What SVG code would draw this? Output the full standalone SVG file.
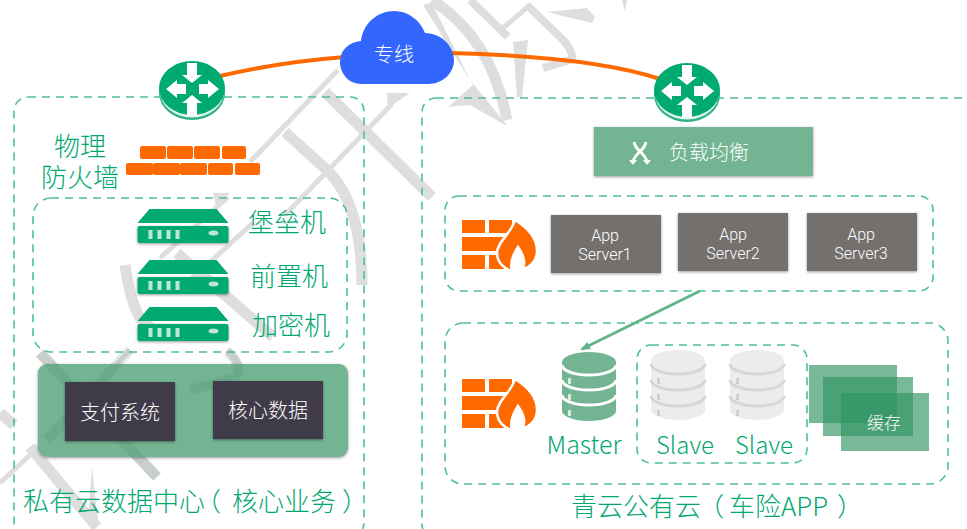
<svg xmlns="http://www.w3.org/2000/svg" width="967" height="529" viewBox="0 0 967 529">
<style>
text{font-family:"Noto Sans CJK SC","Noto Sans",sans-serif;font-weight:300}
.zone{fill:none;stroke:#4cc193;stroke-width:1.6;stroke-dasharray:8 6}
.lbl{fill:#00a870;font-size:26px}
.tight{font-family:"Liberation Sans","Noto Sans CJK SC",sans-serif}
.halt{font-feature-settings:"halt"}
.en{fill:#00a870;font-size:24px;text-anchor:middle}
.wt{fill:#fff;font-size:20px;text-anchor:middle}
.srv{fill:#fff;font-family:Roboto,sans-serif;font-size:16px;text-anchor:middle}
.wm{fill:none;stroke:#dedede;stroke-width:11}
.wm2{fill:none;stroke:#dedede;stroke-width:8}
.wmt{fill:none;stroke:#dedede;stroke-width:5}
.wp{fill:#dedede}
.ov{fill:none;stroke:#2f6e4f;stroke-opacity:.13;stroke-width:10}
.b{fill:#ff6a00}
.g{fill:#00aa70}
.c{fill:#2f9463;fill-opacity:.65}
</style>
<defs>
<filter id="sh" x="-10%" y="-15%" width="120%" height="130%"><feDropShadow dx="0" dy="1" stdDeviation="1.500" flood-color="#000" flood-opacity=".4"/></filter>
<marker id="ah" markerWidth="10" markerHeight="8" refX="8" refY="4" orient="auto" markerUnits="userSpaceOnUse"><path d="M0 0L10 4L0 8z" fill="#62b48c"/></marker>
<g id="router">
<ellipse cx="0" cy="5" rx="33" ry="27" fill="#2fb585"/>
<ellipse cx="0" cy="3" rx="32" ry="26.500" fill="#e6f6f0"/>
<ellipse cx="0" cy="0" rx="33" ry="27" class="g"/>
<path fill="#fff" d="M-5-25H5V-13H10L0-5L-10-13H-5zM-5 27H5V15H10L0 7L-10 15H-5zM-26 1L-15-8V-4H-6V6H-15V10zM27 1L16-8V-4H7V6H16V10z"/>
</g>
<g id="firewall">
<path class="b" d="M0 0h23v13h-23zM27 0h23v13h-23zM0 17h45v14h-45zM0 35h23v14h-23zM27 35h19v14h-19z"/>
<path class="b" stroke="#fff" stroke-width="2.500" d="M53 0C66 8 75 19 75 31C75 41 68 47 60 50C64 44 63 37 56 27C50 36 48 44 50 51C42 49 35 42 35 33C35 22 49 14 53 0z"/>
</g>
<g id="dbg">
<path fill="#73b593" d="M-27 10V59a27 10 0 0 0 54 0V10z"/>
<path fill="none" stroke="#fff" stroke-width="3" d="M-27 13a27 10 0 0 0 54 0M-27 28a27 10 0 0 0 54 0M-27 43a27 10 0 0 0 54 0"/>
<ellipse cx="0" cy="10" rx="27" ry="10" fill="#73b593"/>
<path fill="#d7ebe0" d="M-21 26h3v6h-3zM-21 42h3v6h-3zM-21 58h3v6h-3z"/>
</g>
<g id="dbw">
<path fill="#ececec" d="M-27 10V60a27 10 0 0 0 54 0V10z"/>
<path fill="none" stroke="#d6d6d6" stroke-width="3" d="M-27 14a27 10 0 0 0 54 0M-27 30a27 10 0 0 0 54 0M-27 46a27 10 0 0 0 54 0"/>
<ellipse cx="0" cy="10" rx="27" ry="10" fill="#ececec"/>
<path fill="#cfcfcf" d="M-21 28h3v6h-3zM-21 44h3v6h-3zM-21 60h3v6h-3z"/>
</g>
<g id="appliance">
<path class="g" d="M12 0H79L91 14H0z"/>
<rect x="0" y="17" width="91" height="17" rx="2" class="g" filter="url(#sh)"/>
<path fill="#bfe5d6" d="M11 21h4v9h-4zM20 21h4v9h-4zM29 21h4v9h-4zM38 21h4v9h-4z"/>
<ellipse cx="76" cy="24" rx="5" ry="2.500" fill="#bfe5d6"/>
</g>
</defs>
<rect width="967" height="529" fill="#fff"/>
<g id="watermark">
<path class="wmt" d="M338 70L250 162M392 104L285 215M228 197L160 258M253 223L187 283M130 350L47 440M43 443L0 483"/>
<path class="wm" d="M325 92L432 197M285 132L330 173C350 195 362 230 362 285"/>
<path class="wp" d="M410 93H387L388 108zM230 193H213L216 206zM513 42L528 40L522 97L517 97zM547 12L587 8L595 17L592 23L567 17zM622 0L625 12L627 0zM92 467L88 520H98zM423 5L432 3L470 80L507 125L505 125L470 105L448 107L473 85z"/>
<path class="wm" d="M125 265C128 285 132 305 140 318L157 333M177 253L273 337M40 353L157 477M30 447L97 527M0 413L14 425"/>
<path class="wm2" d="M227 350C240 362 242 374 233 378L190 390M470 0L508 37M527 5L563 40C572 50 574 58 570 60L543 68"/>
<path class="wm" d="M432 0C470 25 495 60 507 120" stroke-width="9"/>
<path class="wmt" d="M530 5L503 28"/>
</g>
<g id="connectors">
<path d="M220 76Q280 62 345 57" fill="none" stroke="#ff6a00" stroke-width="4"/>
<path d="M450 53C530 55 610 62 660 79" fill="none" stroke="#ff6a00" stroke-width="4"/>
<path d="M700 291L582 349" fill="none" stroke="#62b48c" stroke-width="3" marker-end="url(#ah)"/>
</g>
<g id="zone-private"><rect class="zone" x="14" y="97" width="350" height="440" rx="14"/></g>
<g id="zone-public"><rect class="zone" x="422" y="98" width="570" height="440" rx="14"/></g>
<g id="zone-dmz"><rect class="zone" x="33" y="198" width="314" height="154" rx="18"/></g>
<g id="zone-app"><rect class="zone" x="445" y="196" width="488" height="95" rx="14"/></g>
<g id="zone-db"><rect class="zone" x="445" y="323" width="503" height="161" rx="18"/></g>
<g id="zone-slave"><rect class="zone" x="637" y="345" width="170" height="118" rx="14"/></g>
<g id="router-left"><use href="#router" x="192" y="88"/></g>
<g id="router-right"><use href="#router" x="687" y="90"/></g>
<g id="cloud">
<path fill="#3366ff" d="M362 84C347 84 340 72 340 62C340 50 349 42 361 41C363 23 378 11 394 11C408 11 420 20 425 33C442 33 454 47 454 60C454 73 443 84 428 84z"/>
<text class="wt" x="394" y="62">专线</text>
</g>
<g id="firewall-physical">
<path class="b" d="M142 146h22a2 2 0 0 1 2 2v9a2 2 0 0 1-2 2h-22a2 2 0 0 1-2-2v-9a2 2 0 0 1 2-2zM169 146h22a2 2 0 0 1 2 2v9a2 2 0 0 1-2 2h-22a2 2 0 0 1-2-2v-9a2 2 0 0 1 2-2zM196 146h22a2 2 0 0 1 2 2v9a2 2 0 0 1-2 2h-22a2 2 0 0 1-2-2v-9a2 2 0 0 1 2-2zM224 146h20a2 2 0 0 1 2 2v9a2 2 0 0 1-2 2h-20a2 2 0 0 1-2-2v-9a2 2 0 0 1 2-2zM128 163h23a2 2 0 0 1 2 2v8a2 2 0 0 1-2 2h-23a2 2 0 0 1-2-2v-8a2 2 0 0 1 2-2zM155 163h23a2 2 0 0 1 2 2v8a2 2 0 0 1-2 2h-23a2 2 0 0 1-2-2v-8a2 2 0 0 1 2-2zM182 163h23a2 2 0 0 1 2 2v8a2 2 0 0 1-2 2h-23a2 2 0 0 1-2-2v-8a2 2 0 0 1 2-2zM210 163h21a2 2 0 0 1 2 2v8a2 2 0 0 1-2 2h-21a2 2 0 0 1-2-2v-8a2 2 0 0 1 2-2zM237 163h21a2 2 0 0 1 2 2v8a2 2 0 0 1-2 2h-21a2 2 0 0 1-2-2v-8a2 2 0 0 1 2-2z"/>
<text class="lbl tight" text-anchor="middle"><tspan x="80" y="156">物理</tspan><tspan x="80" y="187">防火墙</tspan></text>
</g>
<g id="bastion"><use href="#appliance" x="137.500" y="209"/><text class="lbl" x="248" y="232">堡垒机</text></g>
<g id="frontend"><use href="#appliance" x="137.500" y="260"/><text class="lbl" x="250" y="286">前置机</text></g>
<g id="encrypt"><use href="#appliance" x="137.500" y="307"/><text class="lbl" x="252" y="335">加密机</text></g>
<g id="core-group">
<rect x="38" y="364" width="310" height="93" rx="9" fill="#73b593" filter="url(#sh)"/>
<path class="ov" d="M40 353L157 477M130 350L47 440M227 352C240 362 242 374 233 378L190 390"/>
<rect x="65" y="382" width="110" height="59" fill="#3f3b49" filter="url(#sh)"/>
<text class="wt" x="120" y="420">支付系统</text>
<rect x="213" y="381" width="110" height="58" fill="#3f3b49" filter="url(#sh)"/>
<text class="wt" x="268" y="418">核心数据</text>
</g>
<text id="label-private" class="lbl" y="511"><tspan x="23">私有云数据中心</tspan><tspan class="halt" x="208">（</tspan><tspan x="232">核心业务</tspan><tspan x="342">）</tspan></text>
<g id="lb">
<rect x="594" y="127" width="219" height="49" fill="#73b593" filter="url(#sh)"/>
<path fill="none" stroke="#fff" stroke-width="3" d="M634 142C636 152 645 152 647 162M646 142C644 152 635 152 633 162"/>
<path fill="#fff" d="M629 160h8l-4 5zM643 160h8l-4 5z"/>
<text class="wt" x="709" y="160">负载均衡</text>
</g>
<g id="firewall-app"><use href="#firewall" x="462" y="220"/></g>
<g id="server1"><rect x="551" y="215" width="110" height="58" fill="#736f6e" filter="url(#sh)"/><text class="srv" x="605" y="241">App</text><text class="srv" x="605" y="260">Server1</text></g>
<g id="server2"><rect x="678" y="213" width="110" height="58" fill="#736f6e" filter="url(#sh)"/><text class="srv" x="733" y="240">App</text><text class="srv" x="733" y="259">Server2</text></g>
<g id="server3"><rect x="807" y="213" width="110" height="58" fill="#736f6e" filter="url(#sh)"/><text class="srv" x="861" y="240">App</text><text class="srv" x="861" y="259">Server3</text></g>
<g id="firewall-db"><use href="#firewall" x="462" y="379"/></g>
<g id="master"><use href="#dbg" x="589" y="352"/><text class="en" x="584" y="454" style="font-size:25px">Master</text></g>
<g id="slave1"><use href="#dbw" x="678" y="350"/><text class="en" x="685" y="454">Slave</text></g>
<g id="slave2"><use href="#dbw" x="757" y="350"/><text class="en" x="764" y="454">Slave</text></g>
<g id="cache">
<rect class="c" x="809" y="365" width="88" height="58"/>
<rect class="c" x="823" y="377" width="90" height="59"/>
<rect class="c" x="841" y="393" width="88" height="58"/>
<text class="wt" x="884" y="429" style="font-size:17px">缓存</text>
</g>
<text id="label-public" class="lbl" y="516"><tspan x="571">青云公有云</tspan><tspan class="halt" x="711">（</tspan><tspan x="729">车险APP</tspan><tspan x="837">）</tspan></text>
</svg>
